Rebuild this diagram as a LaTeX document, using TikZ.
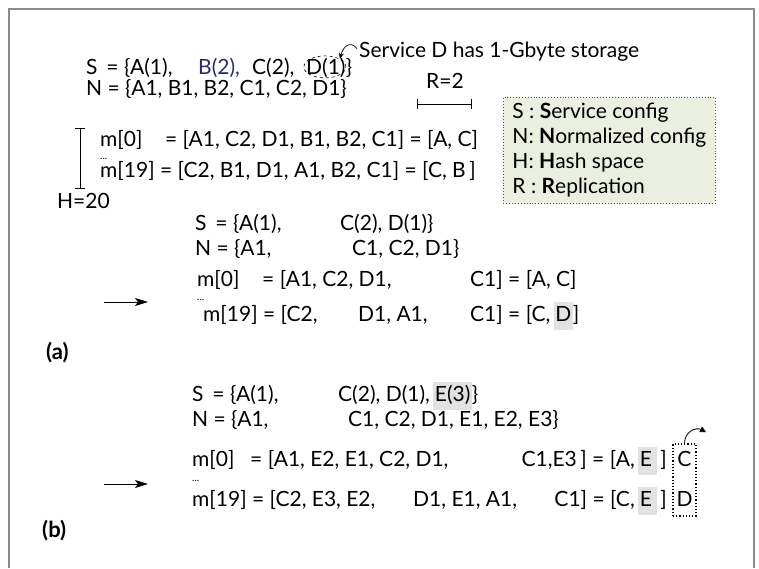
\documentclass[tikz,border=0pt]{standalone}
\usepackage{fontspec}
\setmainfont{Lato}
\usetikzlibrary{arrows.meta,shapes.geometric}
\definecolor{navyc}{HTML}{2B2B6E}
\definecolor{hlc}{HTML}{E2E2E2}
\definecolor{legfill}{HTML}{EAEFE0}
\definecolor{framec}{HTML}{8C8C8C}
\definecolor{legdraw}{HTML}{555555}
\newcommand{\hlbox}[1]{{\setlength{\fboxsep}{1.5pt}\colorbox{hlc}{\strut #1}}}
\begin{document}
\begin{tikzpicture}[x=1pt,y=-1pt,
  txt/.style={inner sep=0pt, anchor=base west, font=\fontsize{21}{25}\selectfont},
  txtr/.style={inner sep=0pt, anchor=base east, font=\fontsize{21}{25}\selectfont},
  dots/.style={inner sep=0pt, anchor=base west, font=\fontsize{10}{10}\selectfont},
  lbl/.style={inner sep=0pt, anchor=base west, font=\fontsize{22}{25}\selectfont\bfseries},
  bigarrow/.style={line width=1pt, -{Stealth[length=13pt,width=8pt,inset=3pt]}},
  brk/.style={line width=0.9pt, {Bar[width=10pt]}-{Bar[width=10pt]}}]
\useasboundingbox (0,0) rectangle (759,568);
\draw[framec, line width=1.5pt] (9,568) -- (9,9) -- (754,9) -- (754,568);

% ---------- top block ----------
\node[txt] (svc) at (359,57.5) {Service D has 1-Gbyte storage};
\node[txt] (s0a) at (86,74.5) {S \,= \{A(1),};
\node[txt, text=navyc] (s0b) at (198,74.5) {B(2),};
\node[txt] (s0c) at (252,74.5) {C(2),};
\node[txt] (d1) at (306,74.5) {D(1)};
\node[txt] (s0d) at (d1.base east) {\}};
\node[draw, dashed, ellipse, line width=0.6pt, minimum width=42pt, minimum height=22pt, inner sep=0pt] (dcirc) at ([xshift=-1pt,yshift=1pt]d1.center) {};
\draw[line width=0.7pt, -{Stealth[length=6pt,width=5pt]}] ([xshift=-2pt,yshift=3pt]svc.west) .. controls +(-7,-9) and +(3,-12) .. (dcirc.north east);
\node[txt] (n0) at (86,95.5) {N = \{A1, B1, B2, C1, C2, D1\}};

\node[txt, anchor=base] (r2) at (445,88) {R=2};
\coordinate (rL) at (417,104);
\coordinate (rR) at (472,104);
\draw[brk] (rL) -- (rR);

\node[txt] (m0a) at (100,146) {m[0]\hphantom{1}\hspace{5pt} = [A1, C2, D1, B1, B2, C1] = [A, C]};
\node[dots] (dt0) at (100,159) {...};
\node[txt] (m19) at (100,177) {m[19] = [C2, B1, D1, A1, B2, C1] = [C, B\,]};
\coordinate (hT) at (80,128);
\coordinate (hB) at (80,189);
\draw[brk] (hT) -- (hB);
\node[txt] (h20) at (57,208) {H=20};

\node[draw=legdraw, dotted, line width=0.9pt, fill=legfill, anchor=north west, align=left,
      inner xsep=9pt, inner ysep=6pt, font=\fontsize{21}{25}\selectfont] (legend) at (503,97)
  {S : \textbf{S}ervice config\\ N: \textbf{N}ormalized config\\ H: \textbf{H}ash space\\ R : \textbf{R}eplication};

% ---------- (a) ----------
\node[txt] (s1a) at (195,230) {S \,= \{A(1),};
\node[txt] (s1b) at (340,230) {C(2), D(1)\}};
\node[txt] (n1a) at (195,255.5) {N = \{A1,};
\node[txt] (n1b) at (352,255.5) {C1, C2, D1\}};
\node[txt] (m1a) at (197,286) {m[0]};
\node[txt] (m1b) at (262,286) {= [A1, C2, D1,};
\node[txt] (m1c) at (470,286) {C1] = [A, C]};
\node[dots] (dt1) at (197,300) {...};
\node[txt] (q1a) at (203,321) {m[19] = [C2,};
\node[txt] (q1b) at (358,321) {D1, A1,};
\node[txt] (q1c) at (470,321) {C1] = [C,\,\hlbox{D}]};
\coordinate (a1s) at (104,302);
\coordinate (a1e) at (148,302);
\draw[bigarrow] (a1s) -- (a1e);
\node[lbl] (la) at (46,359) {(a)};

% ---------- (b) ----------
\node[txt] (s2a) at (192,401) {S \,= \{A(1),};
\node[txt] (s2b) at (338,401) {C(2), D(1),\,\hlbox{E(3)}\}};
\node[txt] (n2a) at (192,426.5) {N = \{A1,};
\node[txt] (n2b) at (348,426.5) {C1, C2, D1, E1, E2, E3\}};
\node[txt] (m2a) at (192,466) {m[0]};
\node[txt] (m2b) at (250,466) {= [A1, E2, E1, C2, D1,};
\node[txtr] (m2c) at (667,466) {C1,E3\,] = [A,\,\hlbox{E\,}\,]};
\node[dots] (dt2) at (192,481) {...};
\node[txt] (q2a) at (192,506) {m[19] = [C2, E3, E2,};
\node[txt] (q2b) at (413,506) {D1, E1, A1,};
\node[txtr] (q2c) at (667,506) {C1] = [C,\,\hlbox{E\,}\,]};
\node[draw, dotted, line width=1.2pt, minimum width=23pt, minimum height=72pt, inner sep=0pt] (cdbox) at (684.5,480) {};
\node[txt, anchor=center] (cC) at (684.5,459) {C};
\node[txt, anchor=center] (cD) at (684.5,499) {D};
\coordinate (cdtip) at (706,432);
\draw[line width=0.8pt, -{Triangle[length=6pt,width=6pt]}] (cdbox.north) .. controls +(0,-12) and +(-10,-5) .. (cdtip);
\coordinate (a2s) at (104,484);
\coordinate (a2e) at (148,484);
\draw[bigarrow] (a2s) -- (a2e);
\node[lbl] (lb) at (42,537) {(b)};
\end{tikzpicture}
\end{document}
